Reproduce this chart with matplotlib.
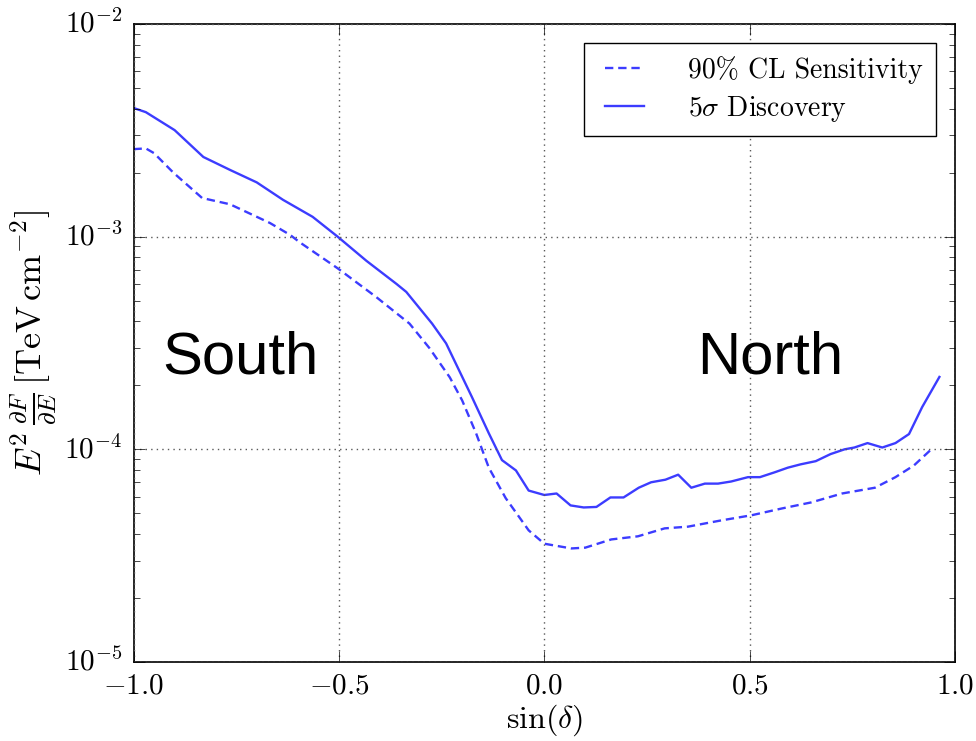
import matplotlib
matplotlib.use("Agg")
import matplotlib.pyplot as plt
import numpy as np

# Sensitivity / discovery potential vs declination
sin_dec_disc = [-1.0, -0.97, -0.9, -0.83, -0.765, -0.70, -0.636, -0.564, -0.503, -0.433,
                -0.36, -0.336, -0.273, -0.239, -0.176, -0.135, -0.103, -0.069, -0.038, 0.0,
                0.03, 0.064, 0.096, 0.127, 0.161, 0.193, 0.23, 0.26, 0.295, 0.326,
                0.358, 0.391, 0.423, 0.455, 0.496, 0.525, 0.561, 0.593, 0.624, 0.661,
                0.697, 0.731, 0.755, 0.787, 0.823, 0.855, 0.888, 0.92, 0.962]
flux_disc = [4.03e-3, 3.85e-3, 3.17e-3, 2.37e-3, 2.06e-3, 1.80e-3, 1.49e-3, 1.24e-3, 1.0e-3, 7.7e-4,
             6.0e-4, 5.5e-4, 3.9e-4, 3.15e-4, 1.76e-4, 1.19e-4, 8.9e-5, 7.96e-5, 6.4e-5, 6.1e-5,
             6.2e-5, 5.45e-5, 5.33e-5, 5.36e-5, 5.94e-5, 5.94e-5, 6.6e-5, 7.0e-5, 7.2e-5, 7.6e-5,
             6.6e-5, 6.9e-5, 6.9e-5, 7.06e-5, 7.4e-5, 7.4e-5, 7.8e-5, 8.2e-5, 8.5e-5, 8.8e-5,
             9.5e-5, 1.0e-4, 1.02e-4, 1.07e-4, 1.02e-4, 1.07e-4, 1.18e-4, 1.58e-4, 2.19e-4]

sin_dec_sens = [-1.0, -0.97, -0.95, -0.903, -0.833, -0.765, -0.668, -0.619, -0.595, -0.503,
                -0.409, -0.328, -0.28, -0.23, -0.2, -0.166, -0.135, -0.094, -0.038, 0.0,
                0.066, 0.1, 0.163, 0.228, 0.293, 0.35, 0.43, 0.505, 0.578, 0.65,
                0.725, 0.805, 0.855, 0.9, 0.947]
flux_sens = [2.58e-3, 2.6e-3, 2.47e-3, 2.0e-3, 1.52e-3, 1.42e-3, 1.16e-3, 1.02e-3, 9.4e-4, 7.1e-4,
             5.2e-4, 3.9e-4, 3.0e-4, 2.18e-4, 1.70e-4, 1.19e-4, 8.2e-5, 5.9e-5, 4.16e-5, 3.6e-5,
             3.42e-5, 3.45e-5, 3.77e-5, 3.9e-5, 4.25e-5, 4.33e-5, 4.63e-5, 4.9e-5, 5.27e-5, 5.63e-5,
             6.2e-5, 6.6e-5, 7.4e-5, 8.4e-5, 1.02e-4]

x_ticks = [-1.0, -0.5, 0.0, 0.5, 1.0]
x_ticklabels = ['$-1.0$', '$-0.5$', '$0.0$', '$0.5$', '$1.0$']

plt.style.use('classic')
plt.rcParams['font.family'] = 'cmr10'
plt.rcParams['mathtext.fontset'] = 'cm'
plt.rcParams['axes.formatter.use_mathtext'] = True
plt.rcParams['figure.facecolor'] = 'white'

fig = plt.figure(figsize=(9.76, 7.41), dpi=100)
ax = fig.add_axes([0.1368, 0.1066, 0.8417, 0.861])

line_color = '#3c3cff'
ax.plot(sin_dec_sens, flux_sens, color=line_color, lw=1.7, dashes=(6, 3.5),
        label='90% CL Sensitivity')
ax.plot(sin_dec_disc, flux_disc, color=line_color, lw=1.7, label=r'5$\sigma$ Discovery')

ax.set_yscale('log')
ax.set_xlim(-1.0, 1.0)
ax.set_ylim(1e-5, 1e-2)
ax.set_xticks(x_ticks)
ax.set_xticklabels(x_ticklabels)
ax.grid(True, which='major', color='0.35', linestyle=':', linewidth=1.0)

ax.tick_params(which='major', length=8, labelsize=21, direction='in', pad=8)
ax.tick_params(which='minor', length=4, direction='in')
for sp in ax.spines.values():
    sp.set_linewidth(1.2)

ax.set_xlabel(r'$\sin(\delta)$', fontsize=23, labelpad=2)
ax.set_ylabel(r'$E^2\,\frac{\partial F}{\partial E}\,[\mathrm{TeV\,cm^{-2}}]$', fontsize=26, labelpad=4)

ax.text(-0.74, 2.7e-4, 'South', family='Liberation Sans', fontsize=43, ha='center', va='center')
ax.text(0.55, 2.7e-4, 'North', family='Liberation Sans', fontsize=43, ha='center', va='center')

leg = ax.legend(loc='upper right', fontsize=20, handlelength=2.0, borderpad=0.45,
                labelspacing=0.35, handletextpad=1.3, borderaxespad=0.7, fancybox=False)
leg.get_frame().set_linewidth(1.0)

fig.savefig('out.png', dpi=100)
